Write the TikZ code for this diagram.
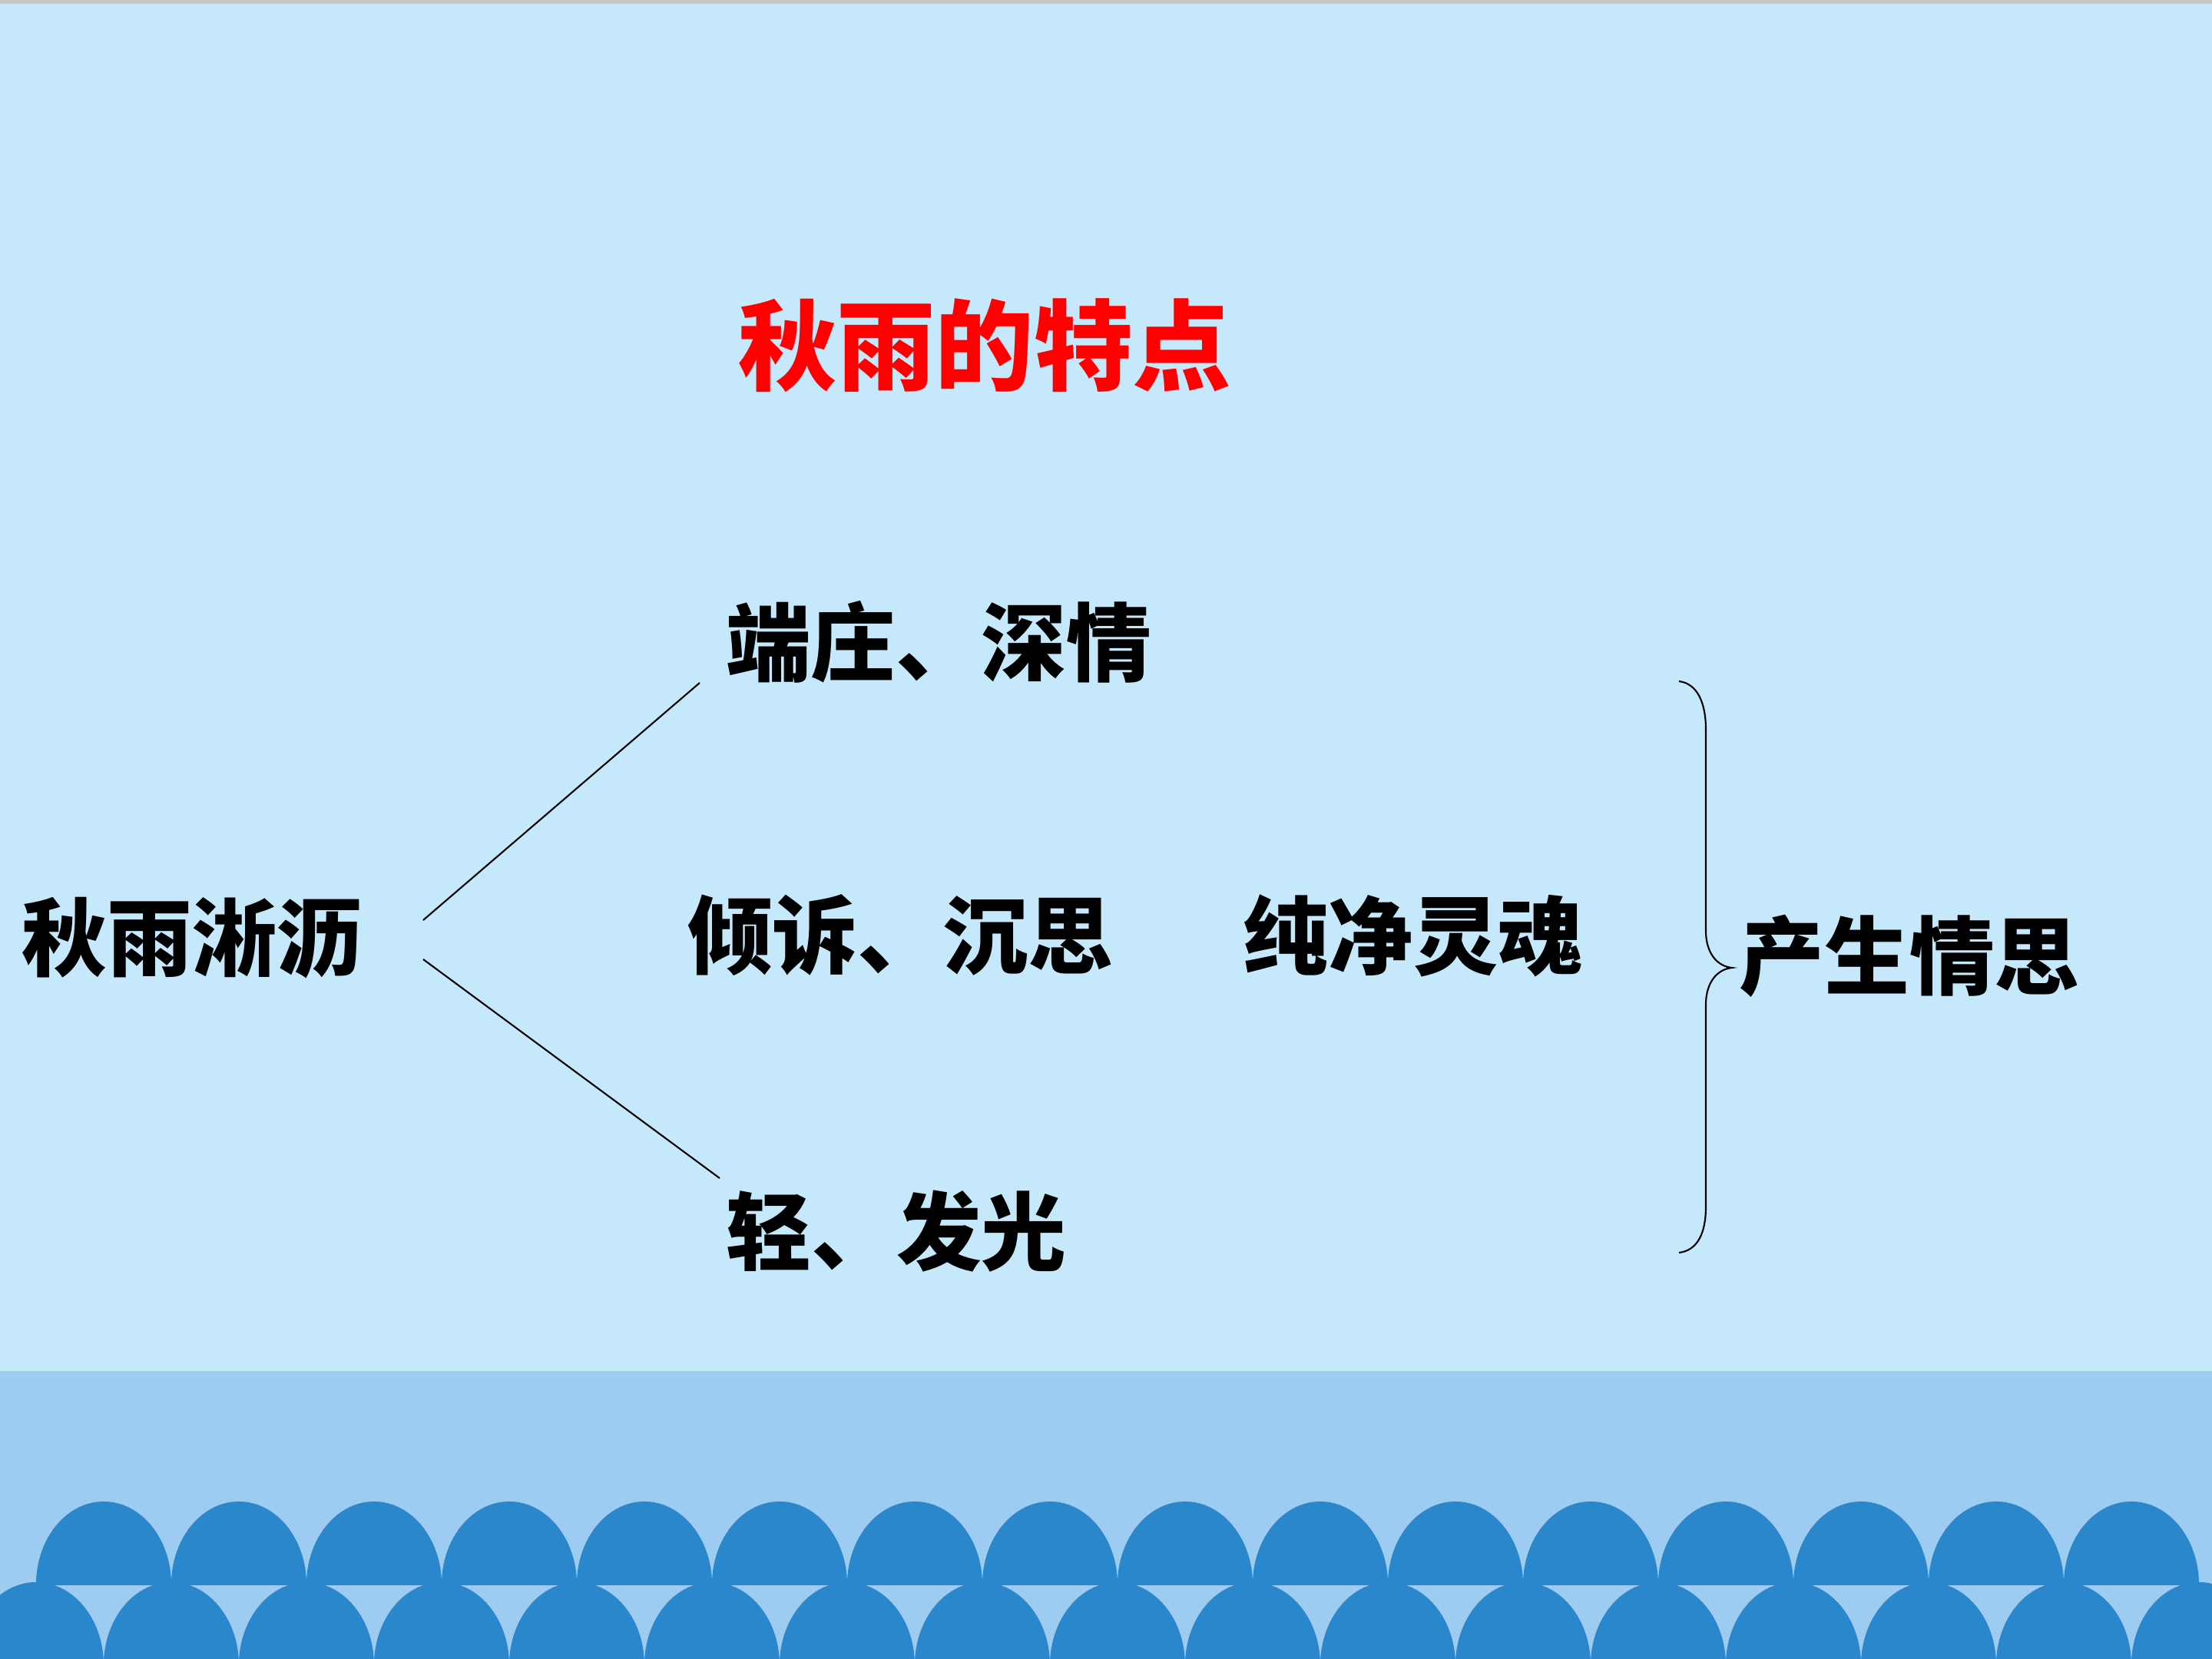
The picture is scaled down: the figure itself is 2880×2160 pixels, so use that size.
\documentclass[tikz,border=0pt]{standalone}
\usepackage{fontspec}
\newfontfamily\cjk{Noto Sans CJK SC}
\usepackage{tikz}
\usetikzlibrary{calc}
\definecolor{sky}{HTML}{C6E8FB}
\definecolor{sea}{HTML}{9ECBF0}
\definecolor{wave}{HTML}{2A87CC}

\begin{document}
\begin{tikzpicture}[x=0.01cm,y=-0.01cm,
  word/.style={font=\cjk\bfseries\fontsize{31.5}{36}\selectfont,inner sep=0pt},
  heading/.style={font=\cjk\bfseries\fontsize{36.5}{42}\selectfont,text=red,inner sep=0pt}]
\useasboundingbox (0,0) rectangle (2880,2160);
\fill[sky] (0,0) rectangle (2880,2160);
\fill[gray!45] (0,0) rectangle (2880,5);
\fill[sea] (0,1785) rectangle (2880,2160);
\begin{scope}
\clip (0,0) rectangle (2880,2063);
\foreach \k in {0,...,15}
  \fill[wave] ({135+176*\k},2063) circle[x radius=0.88cm,y radius=1.08cm];
\end{scope}
\begin{scope}
\clip (0,0) rectangle (2880,2160);
\foreach \k in {0,...,16}
  \fill[wave] ({47+176*\k},2168) circle[x radius=0.88cm,y radius=1.08cm];
\end{scope}
\node[heading] (title) at (1282,450) {秋雨的特点};
\node[word] (qiuyu) at (250,1221) {秋雨淅沥};
\node[word] (duanzhuang) at (1222,836) {端庄、深情};
\node[word] (qingsu) at (1172,1218) {倾诉、沉思};
\node[word] (chunjing) at (1840,1218) {纯净灵魂};
\node[word] (qing) at (1167,1603) {轻、发光};
\node[word] (chansheng) at (2486,1245) {产生情思};
\coordinate (up0) at (551,1198);
\coordinate (up1) at (911,889);
\coordinate (dn0) at (551,1249);
\coordinate (dn1) at (937,1534);
\draw[line width=0.6pt] (up0) -- (up1);
\draw[line width=0.6pt] (dn0) -- (dn1);
\draw[line width=0.6pt] (2186,887) .. controls (2210,890) and (2221,915) .. (2221,950)
  -- (2221,1212) .. controls (2221,1240) and (2235,1258) .. (2255,1260)
  .. controls (2235,1262) and (2221,1280) .. (2221,1308)
  -- (2221,1571) .. controls (2221,1606) and (2210,1628) .. (2186,1631);
\end{tikzpicture}
\end{document}
